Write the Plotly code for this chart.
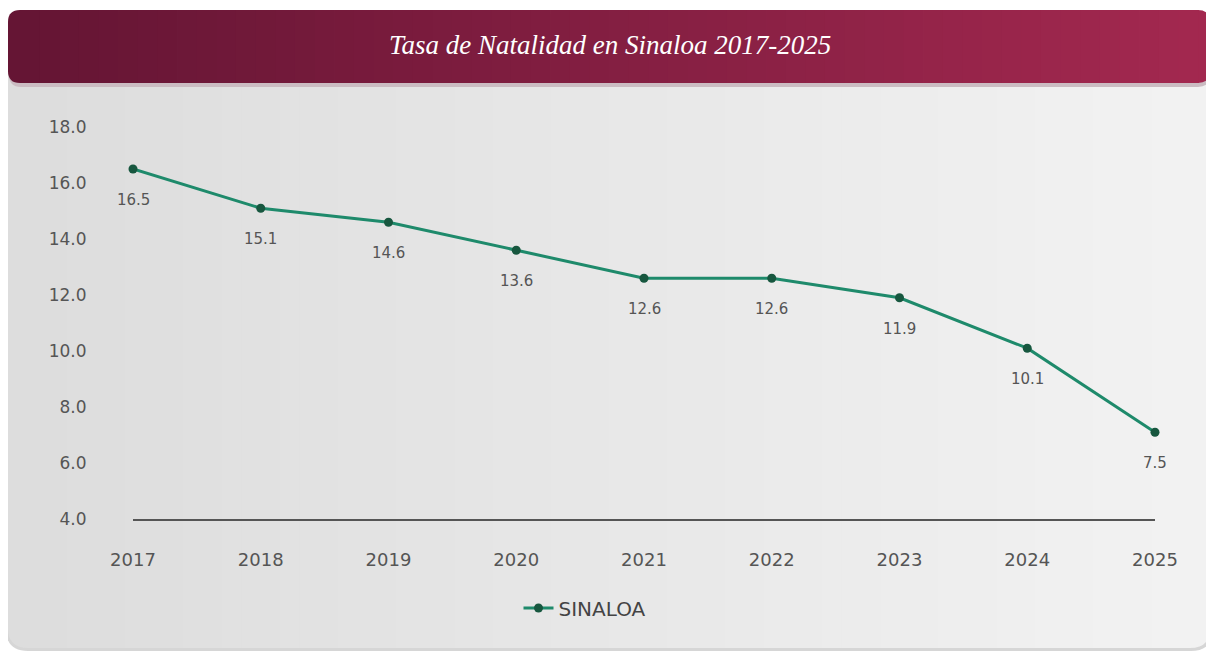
import plotly.graph_objects as go

# ---------------- data ----------------
years = [2017, 2018, 2019, 2020, 2021, 2022, 2023, 2024, 2025]
birth_rate = [16.5, 15.1, 14.6, 13.6, 12.6, 12.6, 11.9, 10.1, 7.1]
point_labels = ["16.5", "15.1", "14.6", "13.6", "12.6", "12.6", "11.9", "10.1", "7.5"]
y_ticks = [4, 6, 8, 10, 12, 14, 16, 18]
series_name = "SINALOA"
title_text = "Tasa de Natalidad en Sinaloa 2017-2025"

# ---------------- layout geometry (page pixels; page has an 8px body margin) ----------------
OFF = 8
W, H = 1214 - OFF, 652 - OFF
PL, PR, PT, PB = 133, 1155, 127, 519  # plot area edges in page pixels


def px(x):
    return (x - PL) / (PR - PL)


def py(y):
    return (PB - y) / (PB - PT)


def hexmix(c1, c2, t):
    a = [int(c1[i:i + 2], 16) for i in (1, 3, 5)]
    b = [int(c2[i:i + 2], 16) for i in (1, 3, 5)]
    return "#%02x%02x%02x" % tuple(round(a[k] + (b[k] - a[k]) * t) for k in range(3))


def rounded_path(x0, y0, x1, y1, r):
    pts = [
        ("M", x0 + r, y0), ("L", x1 - r, y0), ("Q", x1, y0, x1, y0 + r),
        ("L", x1, y1 - r), ("Q", x1, y1, x1 - r, y1), ("L", x0 + r, y1),
        ("Q", x0, y1, x0, y1 - r), ("L", x0, y0 + r), ("Q", x0, y0, x0 + r, y0),
    ]
    s = ""
    for p in pts:
        if p[0] == "Q":
            s += "Q%.5f,%.5f %.5f,%.5f " % (px(p[1]), py(p[2]), px(p[3]), py(p[4]))
        else:
            s += "%s%.5f,%.5f " % (p[0], px(p[1]), py(p[2]))
    return s + "Z"


shapes = []


def gradient_box(x0, y0, x1, y1, r, c_left, c_right, n=60):
    shapes.append(dict(type="path", xref="paper", yref="paper", layer="below",
                       path=rounded_path(x0, y0, x0 + 3 * r, y1, r),
                       fillcolor=c_left, line=dict(width=0)))
    shapes.append(dict(type="path", xref="paper", yref="paper", layer="below",
                       path=rounded_path(x1 - 3 * r, y0, x1, y1, r),
                       fillcolor=c_right, line=dict(width=0)))
    a, b = x0 + r, x1 - r
    step = (b - a) / n
    for i in range(n):
        t = i / (n - 1)
        shapes.append(dict(type="rect", xref="paper", yref="paper", layer="below",
                           x0=px(a + i * step), x1=px(a + (i + 1) * step + 0.8),
                           y0=py(y1), y1=py(y0),
                           fillcolor=hexmix(c_left, c_right, t), line=dict(width=0)))


# card shadow + card
shapes.append(dict(type="path", xref="paper", yref="paper", layer="below",
                   path=rounded_path(6, 14, 1213, 651, 22),
                   fillcolor="#d6d6d6", line=dict(width=0)))
gradient_box(8, 12, 1210, 648, 20, "#dddddd", "#f2f2f2")
# banner shadow + banner
shapes.append(dict(type="path", xref="paper", yref="paper", layer="below",
                   path=rounded_path(9, 14, 1210, 87, 12),
                   fillcolor="#cbbcc2", line=dict(width=0)))
gradient_box(8, 10, 1210, 83, 12, "#651534", "#a2284f")

fig = go.Figure()
fig.add_trace(go.Scatter(
    x=years, y=birth_rate, name=series_name, mode="lines+markers",
    line=dict(color="#1e8a6b", width=3),
    marker=dict(color="#17573f", size=9),
    cliponaxis=False,
))

annotations = [
    dict(x=x, y=v, text=t, showarrow=False, yshift=-31,
         font=dict(family="DejaVu Sans", size=15, color="#555555"))
    for x, v, t in zip(years, birth_rate, point_labels)
]
annotations.append(dict(
    xref="paper", yref="paper", x=px(610), y=py(45), xanchor="center", yanchor="middle",
    text="<i>" + title_text + "</i>", showarrow=False,
    font=dict(family="Liberation Serif", size=27, color="#ffffff"),
))

fig.update_layout(
    width=W, height=H,
    margin=dict(l=PL - OFF, r=W - (PR - OFF), t=PT - OFF, b=H - (PB - OFF), pad=0),
    paper_bgcolor="#ffffff", plot_bgcolor="rgba(0,0,0,0)",
    shapes=shapes, annotations=annotations,
    showlegend=True,
    legend=dict(orientation="h", x=px(585), y=py(608), xanchor="center", yanchor="middle",
                font=dict(family="DejaVu Sans", size=20, color="#444444"),
                bgcolor="rgba(0,0,0,0)"),
    xaxis=dict(range=[years[0], years[-1]], tickvals=years, ticktext=[str(y) for y in years],
               showgrid=False, zeroline=False, showline=True, linecolor="#555555", linewidth=1.5,
               ticks="outside", ticklen=24, tickcolor="rgba(0,0,0,0)",
               tickfont=dict(family="DejaVu Sans", size=18, color="#555555")),
    yaxis=dict(range=[4, 18], tickvals=y_ticks, tickformat=".1f",
               showgrid=False, zeroline=False, showline=False,
               ticks="outside", ticklen=42, tickcolor="rgba(0,0,0,0)",
               tickfont=dict(family="DejaVu Sans", size=17, color="#555555")),
)

fig.write_html("out.html")
